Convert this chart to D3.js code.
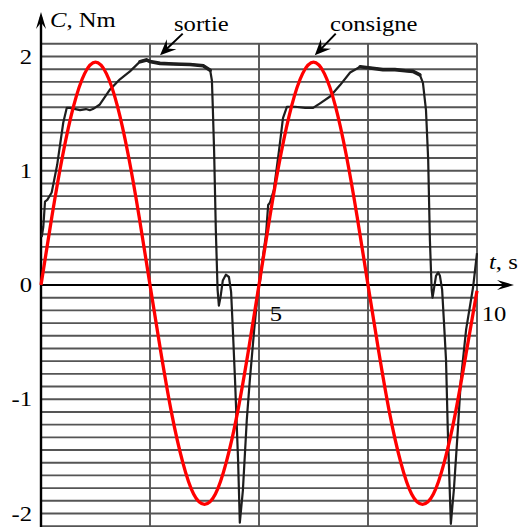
<!DOCTYPE html>
<html>
<head>
<meta charset="utf-8">
<script src="https://cdn.jsdelivr.net/npm/d3@7"></script>
<style>
  body { margin: 0; background: #fff; }
  svg { display: block; }
  text { font-family: "Liberation Serif", "Times New Roman", serif; fill: #000; }
</style>
</head>
<body>
<div id="chart"></div>
<script>
// consigne (red) : t in s, C in Nm
var consigneT = [0, 0.25, 0.5, 0.75, 1, 1.25, 1.5, 1.75, 2, 2.25, 2.5, 2.75, 3, 3.25, 3.5, 3.75, 4, 4.25, 4.5, 4.75,
                 5, 5.25, 5.5, 5.75, 6, 6.25, 6.5, 6.75, 7, 7.25, 7.5, 7.75, 8, 8.25, 8.5, 8.75, 9, 9.25, 9.5, 9.75, 10];
var consigneC = [0, 0.6, 1.14, 1.57, 1.85, 1.95, 1.85, 1.57, 1.14, 0.6, 0, -0.59, -1.13, -1.55, -1.83, -1.92, -1.83, -1.55, -1.13, -0.59,
                 0, 0.6, 1.14, 1.57, 1.85, 1.95, 1.85, 1.57, 1.14, 0.6, 0, -0.59, -1.13, -1.55, -1.83, -1.92, -1.83, -1.55, -1.13, -0.6, -0.05];

// sortie (black)
var sortieT = [0.016, 0.053, 0.092, 0.144, 0.245, 0.37, 0.51, 0.59, 0.665, 0.894, 1.03, 1.12, 1.19, 1.35, 1.58, 1.81, 2.04, 2.27, 2.42, 2.5,
               2.73, 3.03, 3.42, 3.72, 3.88, 3.92, 3.94, 3.97, 4.01, 4.05, 4.08, 4.12, 4.17, 4.24, 4.31, 4.36, 4.40, 4.45, 4.52, 4.56,
               4.63, 4.72, 4.79, 4.89, 4.98, 5.02, 5.09, 5.16, 5.21, 5.25, 5.34, 5.46, 5.55, 5.64, 5.83, 6.06, 6.24, 6.40, 6.63, 6.86,
               7.09, 7.32, 7.55, 7.84, 8.12, 8.35, 8.53, 8.69, 8.76, 8.83, 8.88, 8.92, 8.96, 8.98, 9.01, 9.06, 9.11, 9.15, 9.20, 9.24,
               9.29, 9.33, 9.40, 9.47, 9.56, 9.63, 9.75, 9.91, 10.0];
var sortieC = [0.42, 0.51, 0.73, 0.745, 0.81, 1.05, 1.42, 1.55, 1.55, 1.53, 1.54, 1.53, 1.54, 1.58, 1.71, 1.80, 1.87, 1.955, 1.97, 1.955,
               1.94, 1.935, 1.93, 1.92, 1.88, 1.79, 1.56, 1.18, 0.48, -0.04, -0.18, -0.10, 0.04, 0.09, 0.07, -0.06, -0.39, -0.83, -1.53, -2.08,
               -1.80, -1.18, -0.83, -0.39, -0.04, 0.02, 0.25, 0.44, 0.70, 0.72, 0.83, 1.18, 1.46, 1.56, 1.56, 1.55, 1.55, 1.59, 1.65, 1.75,
               1.86, 1.91, 1.90, 1.885, 1.885, 1.875, 1.87, 1.84, 1.77, 1.53, 1.10, 0.39, -0.04, -0.11, -0.04, 0.08, 0.11, 0.08, -0.04, -0.31,
               -0.66, -1.27, -2.09, -1.79, -1.27, -0.83, -0.39, -0.02, 0.28];

var yTicks = [-2, -1, 0, 1, 2];
var xTicks = [5, 10];
var xGrid = [2.5, 5, 7.5, 10];

var width = 522, height = 527;
var x = d3.scaleLinear().domain([0, 10]).range([41, 477]);
var y = d3.scaleLinear().domain([-2, 2]).range([513.5, 56.5]);

var svg = d3.select("#chart").append("svg")
    .attr("width", width)
    .attr("height", height);

// grid
var yGrid = d3.range(-19, 20).map(function(i) { return i / 9; });
var gridTop = y(19 / 9);
var grid = svg.append("g").attr("stroke", "#555").attr("stroke-width", 1.9);
grid.selectAll(".h").data(yGrid).enter().append("line")
    .attr("x1", x(0)).attr("x2", x(10))
    .attr("y1", function(d) { return y(d); }).attr("y2", function(d) { return y(d); });
grid.selectAll(".v").data(xGrid).enter().append("line")
    .attr("x1", function(d) { return x(d); }).attr("x2", function(d) { return x(d); })
    .attr("y1", gridTop).attr("y2", height);

function head(g, tx, ty, ang, len, half) {
  g.append("path")
    .attr("d", "M0,0L" + (-len) + "," + (-half) + "L" + (-len * 0.62) + ",0L" + (-len) + "," + half + "Z")
    .attr("transform", "translate(" + tx + "," + ty + ") rotate(" + ang + ")")
    .attr("fill", "#000");
}

// axes
var ax = svg.append("g");
ax.append("line").attr("x1", x(0)).attr("x2", 510).attr("y1", y(0)).attr("y2", y(0))
  .attr("stroke", "#000").attr("stroke-width", 2.2);
head(ax, 514, y(0), 0, 17, 5);
ax.append("line").attr("x1", x(0)).attr("x2", x(0)).attr("y1", height).attr("y2", 17)
  .attr("stroke", "#000").attr("stroke-width", 2.4);
head(ax, x(0), 12, -90, 17, 5);

// text helper: Times-like, slightly stretched horizontally like the scan
function label(tx, ty, anchor, size, parts) {
  var t = svg.append("text")
    .attr("transform", "translate(" + tx + "," + ty + ") scale(1.12,1)")
    .attr("text-anchor", anchor)
    .attr("font-size", size);
  parts.forEach(function(p) {
    t.append("tspan").attr("font-style", p[1] ? "italic" : "normal").text(p[0]);
  });
}

yTicks.forEach(function(d) {
  label(32, y(d) + 7, "end", 22, [[String(d), false]]);
});
xTicks.forEach(function(d) {
  label(x(d) + 17, y(0) + 36, "middle", 22, [[String(d), false]]);
});
label(50, 27, "start", 22, [["C", true], [", Nm", false]]);
label(489, 269, "start", 22, [["t", true], [", s", false]]);
label(174, 31, "start", 22, [["sortie", false]]);
label(330, 31, "start", 22, [["consigne", false]]);

// annotation arrows
function pointer(t0, c0, t1, c1) {
  var x0 = x(t0), y0 = y(c0), x1 = x(t1), y1 = y(c1);
  svg.append("line").attr("x1", x0).attr("y1", y0).attr("x2", x1 - (x1 - x0) * 0.3).attr("y2", y1 - (y1 - y0) * 0.3)
    .attr("stroke", "#000").attr("stroke-width", 2);
  head(svg, x1, y1, Math.atan2(y1 - y0, x1 - x0) * 180 / Math.PI, 16, 7);
}
pointer(3.25, 2.2, 2.73, 2.01);
pointer(6.76, 2.2, 6.28, 2.01);

// curves
var sortie = sortieT.map(function(t, i) { return [t, sortieC[i]]; });
var consigne = consigneT.map(function(t, i) { return [t, consigneC[i]]; });
var line = d3.line().x(function(d) { return x(d[0]); }).y(function(d) { return y(d[1]); });

svg.append("path")
    .datum(sortie)
    .attr("fill", "none")
    .attr("stroke", "#1e1e1e")
    .attr("stroke-width", 2.2)
    .attr("stroke-linejoin", "round")
    .attr("d", line);

// noisy plateaus look thicker in the scan
svg.selectAll(".plateau")
    .data([[2.2, 3.88], [7.2, 8.7]])
    .enter().append("path")
    .attr("fill", "none")
    .attr("stroke", "#1e1e1e")
    .attr("stroke-width", 3.6)
    .attr("stroke-linecap", "round")
    .attr("d", function(r) { return line(sortie.filter(function(d) { return d[0] >= r[0] && d[0] <= r[1]; })); });

svg.append("path")
    .datum(consigne)
    .attr("fill", "none")
    .attr("stroke", "#ff0000")
    .attr("stroke-width", 3.3)
    .attr("d", d3.line().curve(d3.curveNatural).x(function(d) { return x(d[0]); }).y(function(d) { return y(d[1]); }));
</script>
</body>
</html>
